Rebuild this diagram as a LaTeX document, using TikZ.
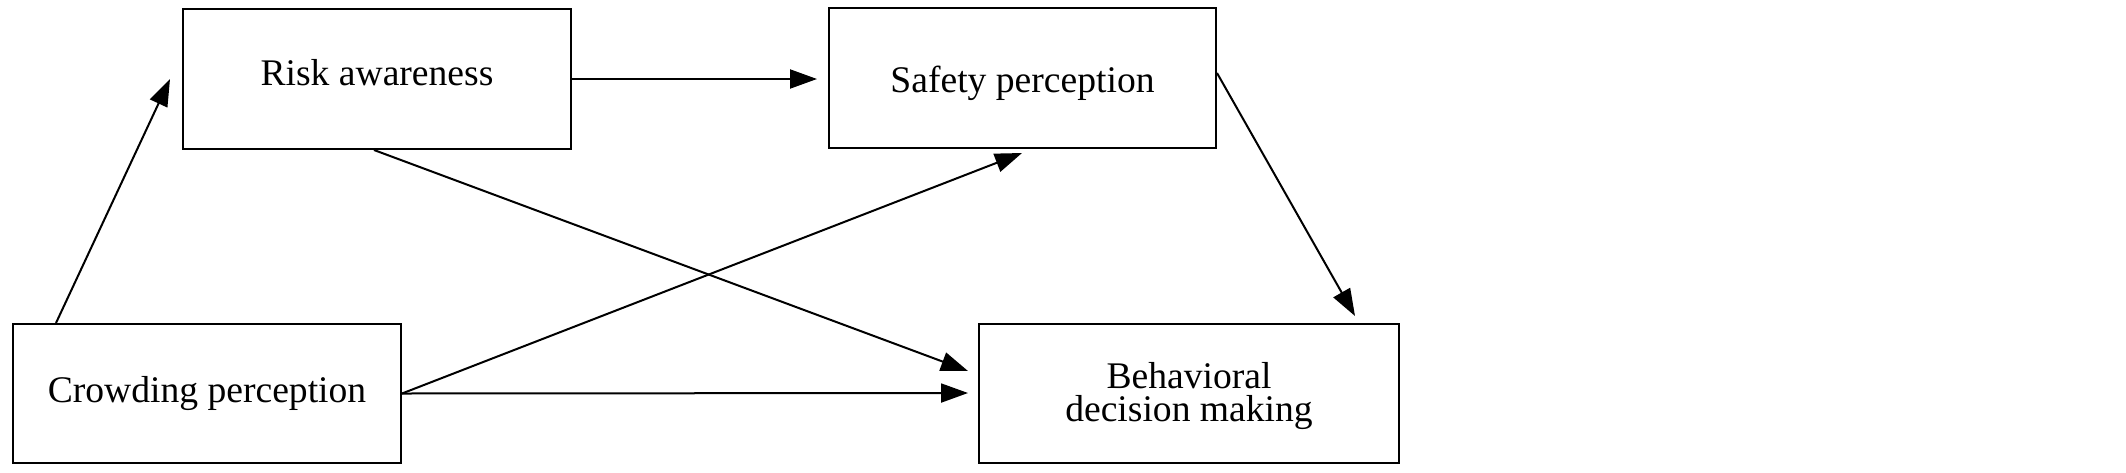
\documentclass[tikz,border=0pt]{standalone}
\usepackage{fontspec}
\setmainfont{Liberation Serif}
\usetikzlibrary{arrows.meta}
\tikzset{
  box/.style={draw=black, line width=1pt, rectangle, inner sep=0pt},
  lbl/.style={anchor=base, inner sep=0pt, font=\fontsize{18.8}{16.5}\selectfont, align=center},
  conn/.style={draw=black, line width=1pt, -{Triangle[length=13.5pt,width=9.5pt]}}
}
\begin{document}
\begin{tikzpicture}[x=0.5pt,y=-0.5pt]
\useasboundingbox (0,0) rectangle (2126,472);
% boxes
\node[box, minimum width=194pt, minimum height=70pt] (risk) at (377,79) {};
\node[box, minimum width=193.5pt, minimum height=70pt] (safety) at (1022.5,78) {};
\node[box, minimum width=194pt, minimum height=69.5pt] (crowd) at (207,393.5) {};
\node[box, minimum width=210pt, minimum height=69.5pt] (behav) at (1189,393.5) {};
% labels
\node[lbl] (riskt) at (377,85) {Risk awareness};
\node[lbl] (safetyt) at (1022.5,92) {Safety perception};
\node[lbl] (crowdt) at (207,402) {Crowding perception};
\node[lbl] (behavt) at (1189,421) {Behavioral\\decision making};
% arrow tips (free ends)
\coordinate (t1) at (170,79);
\coordinate (t2) at (817,79);
\coordinate (t3) at (968,371);
\coordinate (t4) at (1022,153);
\coordinate (t5) at (968,393);
\coordinate (t6) at (1355,316);
% connectors
\draw[conn] ([xshift=22pt]crowd.north west) -- (t1);
\draw[conn] (risk.east) -- (t2);
\draw[conn] ([xshift=-1.5pt]risk.south) -- (t3);
\draw[conn] (crowd.east) -- (t4);
\draw[conn] (crowd.east) -- (t5);
\draw[conn] ([yshift=2.5pt]safety.east) -- (t6);
\end{tikzpicture}
\end{document}
